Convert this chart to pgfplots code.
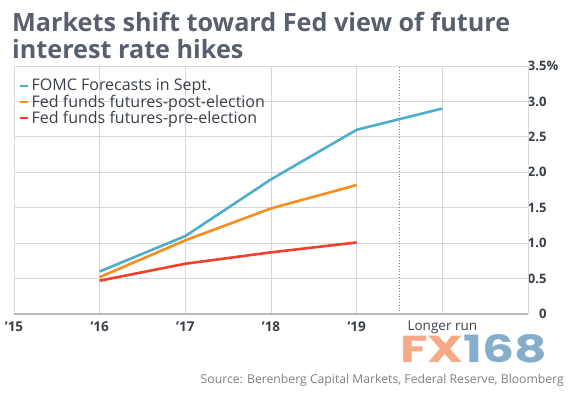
\documentclass[border=0pt]{standalone}
\usepackage{pgfplots}
\pgfplotsset{compat=1.18}
\usepackage{fontspec}
\setmainfont{Open Sans}
\newfontfamily\fxfont{Poppins}
\definecolor{cblue}{HTML}{4FADCC}
\definecolor{corange}{HTML}{F68D1E}
\definecolor{cred}{HTML}{F2402B}
\definecolor{ctitle}{HTML}{58606E}
\definecolor{cgrid}{HTML}{D5D8DD}
\definecolor{caxis}{HTML}{B5BAC1}
\definecolor{ctext}{HTML}{3A3F47}
\begin{document}
\begin{tikzpicture}[x=1bp,y=1bp]
\useasboundingbox (0,0) rectangle (569,398);
% title
\node[anchor=north west, inner sep=0pt, align=left, text=ctitle, font=\fontsize{25.2bp}{27.5bp}\selectfont\bfseries] at (12,386) {Markets shift toward Fed view of future\\interest rate hikes};
\begin{axis}[
  at={(14bp,84bp)}, anchor=south west,
  scale only axis, width=514bp, height=248bp,
  xmin=2015, xmax=2021, ymin=0, ymax=3.5,
  xtick={2015,2016,2017,2018,2019,2020,2021},
  xticklabels={\textbf{’15},\textbf{’16},\textbf{’17},\textbf{’18},\textbf{’19},Longer run,},
  ytick={0,0.5,1,1.5,2,2.5,3,3.5},
  yticklabels={0,0.5,1.0,1.5,2.0,2.5,3.0,3.5\rlap{\%}},
  yticklabel pos=right,
  major tick length=0pt,
  grid=major,
  major grid style={cgrid, line width=0.8bp},
  axis line style={draw=none},
  yticklabel style={anchor=east, xshift=22bp, font=\fontsize{13bp}{14bp}\selectfont\bfseries, text=ctext},
  xticklabel style={anchor=center, yshift=-13bp, font=\fontsize{13.5bp}{15bp}\selectfont, text=ctext},
  extra x ticks={2019.5},
  extra x tick labels={},
  extra x tick style={grid=major, major grid style={dotted, gray, line width=0.8bp}},
  legend style={draw=none, fill=none, at={(0,1)}, anchor=north west, xshift=2bp, yshift=-9bp,
    font=\fontsize{16bp}{17.5bp}\selectfont, text=ctext, row sep=-1.5bp,
    /tikz/every even column/.append style={column sep=0pt}},
  legend cell align=left,
  legend image code/.code={\draw[#1, line width=2.5bp] (0bp,0bp) -- (8bp,0bp);},
  clip=false,
]
\draw[cgrid, line width=0.8bp] (rel axis cs:0,1) -- (rel axis cs:1,1) -- (rel axis cs:1,0);
\draw[cgrid, line width=0.8bp] (rel axis cs:0,0) -- (rel axis cs:0,1);
\draw[caxis, line width=1.6bp] (rel axis cs:0,0) -- (rel axis cs:1,0);
\addplot[cblue, line width=2.6bp] coordinates {(2016,0.6) (2017,1.1) (2018,1.9) (2019,2.6) (2020,2.9)};
\addlegendentry{FOMC Forecasts in Sept.}
\addplot[corange, line width=2.6bp] coordinates {(2016,0.52) (2017,1.04) (2018,1.49) (2019,1.82)};
\addlegendentry{Fed funds futures-post-election}
\addplot[cred, line width=2.6bp] coordinates {(2016,0.47) (2017,0.71) (2018,0.87) (2019,1.01)};
\addlegendentry{Fed funds futures-pre-election}
\end{axis}
% watermark
\node[anchor=south west, inner sep=0pt] at (400,35) {\resizebox{147bp}{28bp}{\fxfont\bfseries\textcolor[HTML]{F5A987}{FX}\textcolor[HTML]{86AECB}{168}}};
% source
\node[anchor=east, inner sep=0pt, text=gray, font=\fontsize{12.2bp}{14bp}\selectfont] at (564,18) {Source: Berenberg Capital Markets, Federal Reserve, Bloomberg};
\end{tikzpicture}
\end{document}
